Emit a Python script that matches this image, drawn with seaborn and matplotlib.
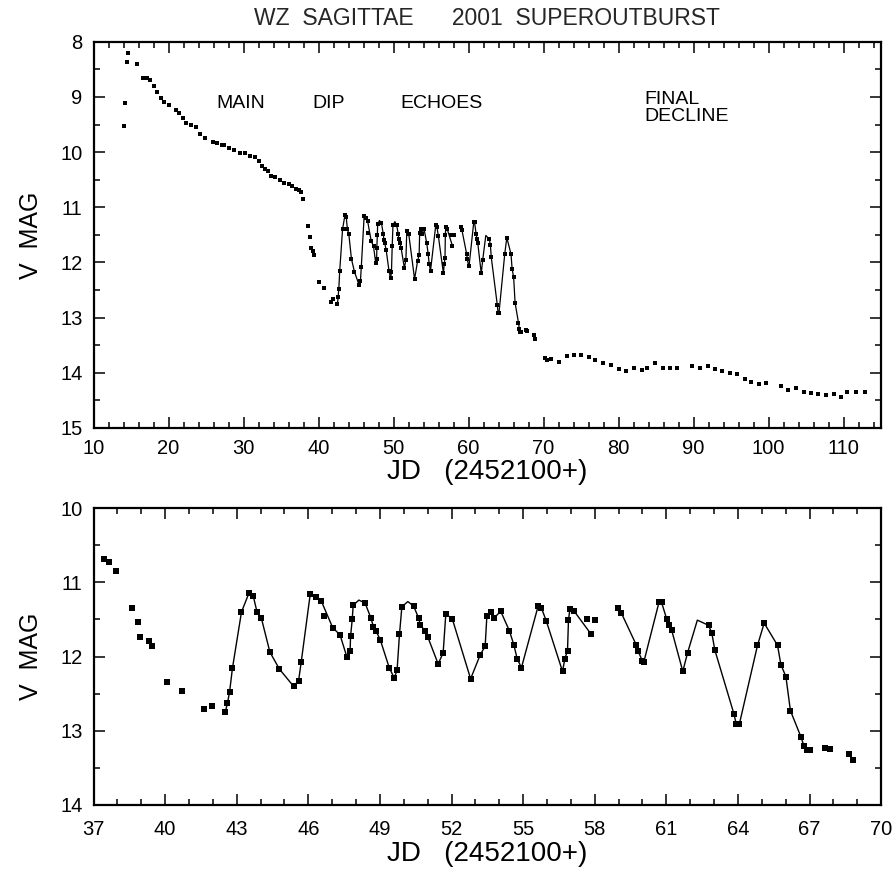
import numpy as np
import pandas as pd
import matplotlib
matplotlib.use("Agg")
import matplotlib.pyplot as plt
import seaborn as sns
from matplotlib.ticker import MultipleLocator, FixedLocator

# ---------------- data ----------------
main_jd = [14.1, 14.2, 14.4, 14.6, 15.8, 16.6, 17.1, 17.5, 18.0, 18.4, 19.0, 19.4, 20.0,
           21.0, 21.4, 21.9, 22.3, 23.0, 23.7, 24.2, 24.9, 25.9, 26.4, 27.1, 27.4, 28.1,
           28.7, 29.5, 30.2, 30.9, 31.5, 32.0, 32.4, 32.9, 33.3, 33.6, 34.2, 34.9, 35.4,
           36.0, 36.4, 36.95, 37.45, 37.66, 37.96]
main_mag = [9.53, 9.11, 8.36, 8.21, 8.40, 8.65, 8.66, 8.69, 8.81, 8.92, 9.02, 9.10, 9.14,
            9.24, 9.29, 9.38, 9.47, 9.51, 9.54, 9.68, 9.74, 9.81, 9.83, 9.87, 9.87, 9.92,
            9.96, 10.01, 10.02, 10.07, 10.08, 10.16, 10.25, 10.31, 10.34, 10.43, 10.46,
            10.51, 10.56, 10.57, 10.62, 10.67, 10.69, 10.73, 10.85]

dip_jd = [38.62, 38.87, 38.93, 39.32, 39.46, 40.07, 40.70, 41.65, 41.96]
dip_mag = [11.34, 11.54, 11.74, 11.79, 11.86, 12.35, 12.46, 12.71, 12.66]

echo1_jd = [42.52, 42.61, 42.70, 42.82, 43.20, 43.52, 43.69, 43.85, 44.03, 44.39, 44.79,
            45.38, 45.59, 45.70, 46.08, 46.34, 46.54, 47.02, 47.33, 47.62, 47.75, 47.77,
            47.84, 47.88, 48.38, 48.62, 48.73, 48.83, 49.02, 49.39, 49.60, 49.72, 49.82,
            49.92, 50.41, 50.62, 50.69, 50.87, 51.01, 51.44, 51.65, 51.76, 52.03, 52.80,
            53.20, 53.41, 53.48, 53.66, 53.79, 54.06, 54.42, 54.61, 54.75, 54.93, 55.63,
            55.77, 55.97, 56.65, 56.75, 56.86, 56.90, 56.96, 57.14, 57.85]
echo1_mag = [12.75, 12.63, 12.48, 12.16, 11.40, 11.14, 11.18, 11.40, 11.48, 11.94, 12.17,
             12.40, 12.33, 12.08, 11.16, 11.20, 11.25, 11.61, 11.71, 12.01, 11.93, 11.73,
             11.50, 11.31, 11.28, 11.48, 11.60, 11.65, 11.78, 12.15, 12.29, 12.18, 11.70,
             11.33, 11.32, 11.48, 11.57, 11.65, 11.74, 12.10, 11.95, 11.43, 11.49, 12.30,
             11.98, 11.86, 11.46, 11.40, 11.48, 11.39, 11.65, 11.84, 12.03, 12.15, 11.32,
             11.35, 11.52, 12.20, 12.03, 11.92, 11.51, 11.36, 11.39, 11.70]
# curve knots of the drawn line (no observation marker there)
echo1_knot_jd = [48.12, 50.17]
echo1_knot_mag = [11.24, 11.26]

echo2_jd = [58.97, 59.11, 59.75, 59.82, 60.00, 60.06, 60.70, 60.80, 61.01, 61.12, 61.22,
            61.69, 61.89, 62.77, 62.91, 63.03, 63.83, 63.93, 64.06, 64.82, 65.10, 65.66,
            65.80, 66.01, 66.20, 66.65, 66.76, 66.89, 67.04]
echo2_mag = [11.35, 11.41, 11.85, 11.93, 12.06, 12.07, 11.26, 11.27, 11.49, 11.58, 11.64,
             12.20, 11.95, 11.58, 11.69, 11.91, 12.77, 12.91, 12.91, 11.85, 11.55, 11.85,
             12.11, 12.27, 12.73, 13.09, 13.20, 13.26, 13.26]
echo2_knot_jd = [62.30]
echo2_knot_mag = [11.51]

extra_jd = [46.65, 57.66, 58.01]
extra_mag = [11.46, 11.50, 11.51]

late_jd = [67.63, 67.85, 68.66, 68.83, 70.2, 70.5, 71.0, 72.1, 73.1, 74.0, 75.0, 76.0,
           76.9, 77.9, 79.0, 80.0, 81.0, 82.1, 83.1, 83.8, 84.9, 85.9, 86.8, 87.8, 89.8,
           90.8, 91.9, 92.8, 93.8, 94.8, 95.8, 96.8, 97.7, 98.7, 99.7, 101.7, 102.6,
           103.7, 104.7, 105.6, 106.6, 107.6, 108.7, 109.6, 110.4, 111.7, 112.8]
late_mag = [13.23, 13.24, 13.31, 13.39, 13.73, 13.77, 13.75, 13.81, 13.69, 13.67, 13.68,
            13.71, 13.76, 13.82, 13.85, 13.94, 13.96, 13.92, 13.95, 13.91, 13.82, 13.91,
            13.91, 13.91, 13.88, 13.91, 13.88, 13.94, 13.96, 14.01, 14.03, 14.12, 14.17,
            14.20, 14.19, 14.24, 14.31, 14.27, 14.35, 14.37, 14.39, 14.41, 14.38, 14.44,
            14.34, 14.35, 14.35]

phase_labels = ["MAIN", "DIP", "ECHOES", "FINAL\nDECLINE"]
phase_jd = [29.6, 41.3, 56.4, 83.5]
phase_mag = [9.12, 9.12, 9.12, 9.2]

bottom_xticks = [37, 40, 43, 46, 49, 52, 55, 58, 61, 64, 67, 70]

title = "WZ  SAGITTAE      2001  SUPEROUTBURST"
xlabel = "JD   (2452100+)"
ylabel = "V  MAG"

# ---------------- assemble ----------------
points = pd.DataFrame({
    "jd": main_jd + dip_jd + echo1_jd + echo2_jd + extra_jd + late_jd,
    "mag": main_mag + dip_mag + echo1_mag + echo2_mag + extra_mag + late_mag,
})
line1 = pd.DataFrame({"jd": echo1_jd + echo1_knot_jd,
                      "mag": echo1_mag + echo1_knot_mag}).sort_values("jd")
line2 = pd.DataFrame({"jd": echo2_jd + echo2_knot_jd,
                      "mag": echo2_mag + echo2_knot_mag}).sort_values("jd")

sns.set_theme(style="ticks")
plt.rcParams['font.family'] = ['Liberation Sans', 'DejaVu Sans']

fig = plt.figure(figsize=(8.94, 8.75), dpi=100)
ax1 = fig.add_axes([0.1046, 0.5109, 0.881, 0.4414])
ax2 = fig.add_axes([0.1046, 0.080, 0.881, 0.3394])


def draw(ax, msize, lw):
    for ln in (line1, line2):
        sns.lineplot(data=ln, x="jd", y="mag", ax=ax, sort=False, estimator=None,
                     color="black", linewidth=lw)
    sns.scatterplot(data=points, x="jd", y="mag", ax=ax, marker="s", s=msize,
                    color="black", edgecolor="black", linewidth=0)
    for sp in ax.spines.values():
        sp.set_visible(True)
        sp.set_color("black")
        sp.set_linewidth(1.6)
    ax.tick_params(which="both", direction="in", top=True, right=True,
                   color="black", width=1.1)
    ax.tick_params(which="major", length=8)
    ax.tick_params(which="minor", length=4.5)
    ax.tick_params(axis="both", labelsize=14.5, labelcolor="black")
    ax.yaxis.set_major_locator(MultipleLocator(1))
    ax.yaxis.set_minor_locator(MultipleLocator(0.5))
    ax.set_ylabel(ylabel, fontsize=18, color="black", labelpad=12)
    ax.set_xlabel(xlabel, fontsize=20, color="black", labelpad=1)
    ax.set_facecolor("white")


draw(ax1, 9, 0.9)
ax1.set_xlim(10, 115)
ax1.set_ylim(15, 8)
ax1.xaxis.set_major_locator(MultipleLocator(10))
ax1.xaxis.set_minor_locator(MultipleLocator(2))
ax1.tick_params(axis="y", pad=8)
ax1.tick_params(axis="x", pad=8)
ax1.set_title(title, fontsize=16.5, pad=12)
for lab, x, y in zip(phase_labels, phase_jd, phase_mag):
    ha = "left" if "\n" in lab else "center"
    ax1.text(x, y, lab, ha=ha, va="center", fontsize=14,
             linespacing=1.0, color="black")

draw(ax2, 14, 1.0)
ax2.set_xlim(37, 70)
ax2.set_ylim(14, 10)
ax2.xaxis.set_major_locator(FixedLocator(bottom_xticks))
ax2.xaxis.set_minor_locator(MultipleLocator(1))
ax2.tick_params(axis="y", pad=8)
ax2.tick_params(axis="x", pad=11)

fig.patch.set_facecolor("white")
fig.savefig("out.png", dpi=100, facecolor="white")
